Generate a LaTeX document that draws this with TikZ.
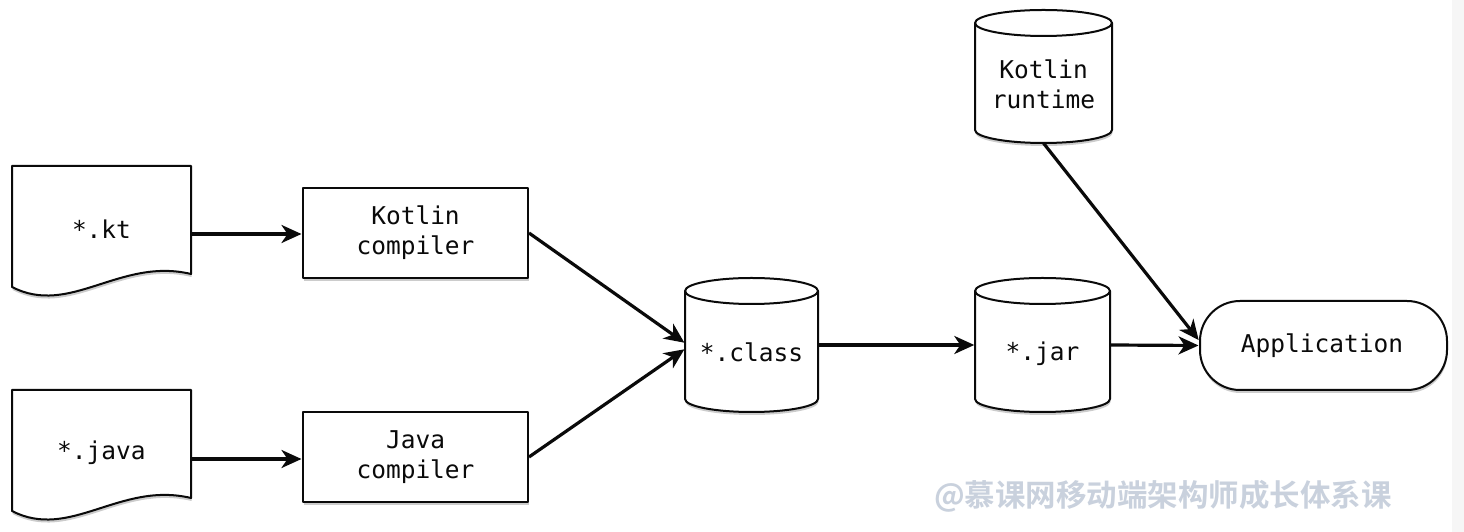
\documentclass[tikz,border=0pt]{standalone}
\usepackage{fontspec}
\setmonofont{DejaVu Sans Mono}
\newfontfamily\cjk{Noto Sans CJK SC Bold}
\usetikzlibrary{arrows.meta,calc,shadows}
\definecolor{wm}{HTML}{C9D1DD}
\definecolor{strip}{HTML}{F6F6F6}
\definecolor{ink}{HTML}{0A0A0A}
\tikzset{
  outline/.style={draw=ink, line width=2pt, fill=white, line join=round,
    drop shadow={shadow xshift=0.5pt, shadow yshift=-3pt, opacity=0.2, fill=black}},
  holder/.style={inner sep=0pt, draw=none, rectangle},
  lbl/.style={font=\ttfamily\fontsize{24.5}{30}\selectfont, text=ink, align=center, inner sep=0pt},
  conn/.style={draw=ink, line width=3.2pt, -{Stealth[length=20pt, width=18pt, inset=6pt]}, shorten >=0.5pt},
}
\begin{document}
\begin{tikzpicture}[x=1pt,y=1pt]
\useasboundingbox (0,0) rectangle (1464,532);
\fill[white] (0,0) rectangle (1464,532);
\fill[strip] (1452,0) rectangle (1464,532);

% document shapes
\path[outline] (12,366) -- (191,366) -- (191,258) .. controls (120,275) and (70,215) .. (12,245) -- cycle;
\node[holder, minimum width=179pt, minimum height=121pt] (kt) at (101.5,306) {};
\node[lbl] at (101.5,303) {*.kt};

\path[outline] (12,142) -- (191,142) -- (191,34) .. controls (120,51) and (70,-9) .. (12,21) -- cycle;
\node[holder, minimum width=179pt, minimum height=121pt] (java) at (101.5,82) {};
\node[lbl] at (101.5,79) {*.java};

% compilers
\node[outline, holder, draw=ink, minimum width=225pt, minimum height=90pt] (kc) at (415.5,299) {};
\node[lbl] at (kc) {Kotlin\\compiler};
\node[outline, holder, draw=ink, minimum width=225pt, minimum height=90pt] (jc) at (415.5,75) {};
\node[lbl] at (jc) {Java\\compiler};

% cylinders
\path[outline] (685,241) -- (685,133) arc[start angle=180, end angle=360, x radius=66.5, y radius=13] -- (818,241) arc[start angle=0, end angle=180, x radius=66.5, y radius=13] -- cycle;
\draw[draw=ink, line width=2pt] (685,241) arc[start angle=180, end angle=360, x radius=66.5, y radius=13];
\node[holder, minimum width=133pt, minimum height=134pt] (cls) at (751.5,187) {};
\node[lbl] at (751.5,180) {*.class};

\path[outline] (975,241) -- (975,133) arc[start angle=180, end angle=360, x radius=67.5, y radius=13] -- (1110,241) arc[start angle=0, end angle=180, x radius=67.5, y radius=13] -- cycle;
\draw[draw=ink, line width=2pt] (975,241) arc[start angle=180, end angle=360, x radius=67.5, y radius=13];
\node[holder, minimum width=135pt, minimum height=134pt] (jar) at (1042.5,187) {};
\node[lbl] at (1042.5,178) {*.jar};

\path[outline] (975,509) -- (975,402) arc[start angle=180, end angle=360, x radius=68.5, y radius=13] -- (1112,509) arc[start angle=0, end angle=180, x radius=68.5, y radius=13] -- cycle;
\draw[draw=ink, line width=2pt] (975,509) arc[start angle=180, end angle=360, x radius=68.5, y radius=13];
\node[holder, minimum width=137pt, minimum height=133pt] (rt) at (1043.5,455.5) {};
\node[lbl] at (1043.5,448) {Kotlin\\runtime};

% application
\node[outline, holder, draw=ink, rounded corners=40pt, minimum width=247pt, minimum height=89pt] (app) at (1323.5,186.5) {};
\node[lbl] at (1322,186) {Application};

% connectors
\draw[conn] (kt.east |- 0,298) -- (kc.west |- 0,298);
\draw[conn] (java.east |- 0,73) -- (jc.west |- 0,73);
\draw[conn] (kc.east) -- ($(cls.west)+(0,2)$);
\draw[conn] (jc.east) -- ($(cls.west)+(0,-4)$);
\draw[conn] (cls.east) -- (jar.west);
\draw[conn] (jar.east) -- (app.west);
\draw[conn] (rt.south) -- ($(app.west)+(0,5)$);

% watermark
\node[font=\cjk\fontsize{30.5}{32}\selectfont, text=wm, inner sep=0pt] (wmk) at (1163,36) {@慕课网移动端架构师成长体系课};
\end{tikzpicture}
\end{document}
